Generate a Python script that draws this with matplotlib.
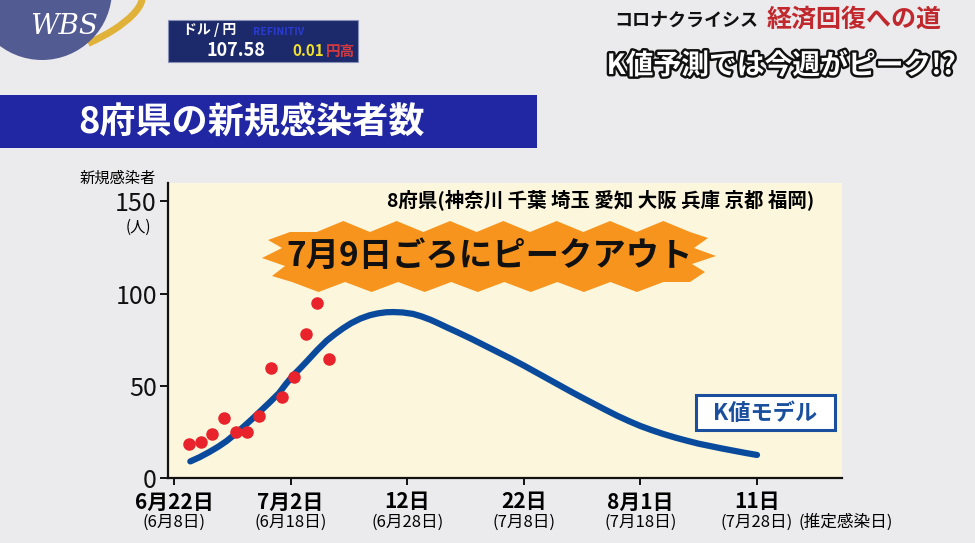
import matplotlib
matplotlib.use('Agg')
import matplotlib.pyplot as plt
import matplotlib.patches as mpatches
import matplotlib.transforms as mtransforms
import matplotlib.patheffects as pe
import numpy as np

plt.rcParams['font.family'] = ['Noto Sans CJK JP', 'DejaVu Sans']

W, H = 975, 543

# observed new cases, x = days after 6/22
obs_day = [1.3, 2.3, 3.3, 4.3, 5.3, 6.3, 7.3, 8.3, 9.3, 10.3, 11.3, 12.3, 13.3]
obs_cases = [18.6, 19.6, 23.7, 32.4, 25, 25, 33.5, 59.4, 43.9, 55, 78.3, 95.1, 64.8]

# K-value model curve
model_day = [1.4, 2.2, 3.0, 3.8, 4.5, 5.2, 6.0, 6.7, 7.4, 8.2, 9.0, 9.6, 10.2, 10.9,
             11.5, 12.3, 13.1, 13.8, 14.5, 15.2, 16.0, 16.8, 17.5, 18.2, 18.8, 19.6,
             20.5, 21.2, 22.0, 22.7, 23.4, 24.4, 25.5, 26.6, 27.7, 28.8, 30.0, 31.0,
             32.0, 33.0, 34.0, 35.0, 36.0, 37.0, 38.0, 39.0, 40.0, 41.0, 42.0, 43.0,
             44.0, 45.0, 46.0, 47.0, 48.0, 49.0, 50.0]
model_cases = [9.0, 11.3, 14.0, 17.0, 20.0, 23.6, 28.0, 32.0, 36.2, 41.0, 46.0, 51.0, 55.5, 60.0,
               64.0, 69.5, 74.5, 78.0, 81.2, 84.0, 86.5, 88.3, 89.3, 89.9, 90.0, 89.8,
               89.0, 87.7, 85.8, 83.8, 81.7, 78.8, 75.5, 72.0, 68.5, 65.0, 61.0, 57.5,
               54.0, 50.5, 47.0, 43.6, 40.3, 37.0, 33.8, 30.9, 28.2, 25.9, 23.8, 21.9,
               20.2, 18.6, 17.3, 16.0, 14.8, 13.6, 12.5]

tick_day = [0, 10, 20, 30, 40, 50]
tick_main = ['6月22日', '7月2日', '12日', '22日', '8月1日', '11日']
tick_sub = ['(6月8日)', '(6月18日)', '(6月28日)', '(7月8日)', '(7月18日)', '(7月28日)']
ytick_vals = [0, 50, 100, 150]

fig = plt.figure(figsize=(W / 100, H / 100), dpi=100)
fig.patch.set_facecolor('#ebebed')

# pixel coords (origin top-left) -> display
px = mtransforms.Affine2D().scale(1 / 100, -1 / 100).translate(0, H / 100) + fig.dpi_scale_trans

# ---- chart ----
ax = fig.add_axes([168 / W, 1 - 478 / H, (842 - 168) / W, (478 - 183) / H])
ax.set_facecolor('#fbf6dc')
ax.set_xlim(-0.515, 57.29)
ax.set_ylim(0, 160)
for s in ['top', 'right']:
    ax.spines[s].set_visible(False)
for s in ['left', 'bottom']:
    ax.spines[s].set_linewidth(1.6)
    ax.spines[s].set_color('#111111')

ax.plot(model_day, model_cases, color='#0a4a9c', lw=4.5, solid_capstyle='round',
        solid_joinstyle='round', zorder=3)
ax.plot(obs_day, obs_cases, 'o', color='#e8232b', markersize=8, zorder=4)

ax.set_yticks(ytick_vals)
ax.set_yticklabels([str(v) for v in ytick_vals], fontsize=18)
ax.tick_params(axis='y', direction='out', length=6, width=1.4, pad=2, colors='#111111')
ax.set_xticks(tick_day)
ax.set_xticklabels([])
ax.tick_params(axis='x', direction='out', length=5, width=1.4, colors='#111111')

xt = mtransforms.blended_transform_factory(ax.transData, px)
for d, m, s in zip(tick_day, tick_main, tick_sub):
    ax.text(d, 502, m, transform=xt, ha='center', va='center', fontsize=15,
            fontweight='bold', clip_on=False)
    ax.text(d, 522, s, transform=xt, ha='center', va='center', fontsize=12, clip_on=False)
fig.text(846, 522, '(推定感染日)', transform=px, ha='center', va='center', fontsize=12)

fig.text(118, 178, '新規感染者', transform=px, ha='center', va='center', fontsize=11)
fig.text(138, 227, '(人)', transform=px, ha='center', va='center', fontsize=11)

fig.text(601, 200, '8府県(神奈川 千葉 埼玉 愛知 大阪 兵庫 京都 福岡)', transform=px,
         ha='center', va='center', fontsize=14, fontweight='bold')

# orange burst
bx = [290, 268, 282, 262, 285, 272, 292]
by = [232, 240, 248, 258, 266, 276, 282]
xs = np.linspace(292, 690, 16)
for i, x in enumerate(xs[1:-1]):
    bx.append(x)
    by.append(292 if i % 2 == 0 else 282)
bx += [690, 705, 692, 716, 694, 708, 690]
by += [282, 272, 264, 256, 248, 238, 232]
xs = np.linspace(690, 290, 16)
for i, x in enumerate(xs[1:-1]):
    bx.append(x)
    by.append(221 if i % 2 == 0 else 232)
fig.add_artist(mpatches.Polygon(list(zip(bx, by)), closed=True, transform=px,
                                facecolor='#f7941d', edgecolor='none', zorder=5))
fig.text(490, 256, '7月9日ごろにピークアウト', transform=px, ha='center', va='center',
         fontsize=24, fontweight='bold', color='#111111', zorder=6)

# K値モデル box
fig.add_artist(mpatches.Rectangle((696, 395), 139, 35, transform=px, facecolor='white',
                                  edgecolor='#1a4f9e', lw=2.2, zorder=5))
fig.text(765, 413, 'K値モデル', transform=px, ha='center', va='center', fontsize=16,
         fontweight='bold', color='#1a4f9e', zorder=6)

# ---- title banner ----
fig.add_artist(mpatches.Rectangle((0, 95), 537, 53, transform=px, facecolor='#2126a3',
                                  edgecolor='none', zorder=1))
fig.text(252, 122, '8府県の新規感染者数', transform=px, ha='center', va='center',
         fontsize=26, fontweight='bold', color='white', zorder=2)

# ---- WBS logo ----
fig.add_artist(mpatches.Arc((72, 22), 150, 52, angle=-22, theta1=-120, theta2=75,
                            transform=px, color='#e0b23a', lw=5, zorder=2))
fig.add_artist(mpatches.Circle((42, -10), 70, transform=px, facecolor='#535b93',
                               edgecolor='none', zorder=3))
fig.text(64, 26, 'WBS', transform=px, ha='center', va='center', fontsize=20,
         family='DejaVu Serif', style='italic', color='white', zorder=4)

# ---- exchange rate box ----
fig.add_artist(mpatches.Rectangle((168, 20), 190, 42, transform=px, facecolor='#1c2a6b',
                                  edgecolor='#8890b8', lw=0.8, zorder=2))
fig.text(183, 30, 'ドル / 円', transform=px, ha='left', va='center', fontsize=10,
         fontweight='bold', color='white', zorder=3)
fig.text(253, 32, 'REFINITIV', transform=px, ha='left', va='center', fontsize=7.5,
         fontweight='bold', color='#2a3cd0', zorder=3)
fig.text(236, 50, '107.58', transform=px, ha='center', va='center', fontsize=13,
         fontweight='bold', color='white', zorder=3)
fig.text(292, 51, '0.01', transform=px, ha='left', va='center', fontsize=11,
         fontweight='bold', color='#f2e030', zorder=3)
fig.text(326, 51, '円高', transform=px, ha='left', va='center', fontsize=10.5,
         fontweight='bold', color='#d23a40', zorder=3)

# ---- top-right caption ----
fig.text(686, 20, 'コロナクライシス', transform=px, ha='center', va='center', fontsize=13,
         fontweight='bold', style='italic', color='#111111')
fig.text(854, 20, '経済回復への道', transform=px, ha='center', va='center', fontsize=18,
         fontweight='bold', color='#c0282d')
fig.text(781, 66, 'K値予測では今週がピーク!?', transform=px, ha='center', va='center',
         fontsize=20, fontweight='bold', color='white',
         path_effects=[pe.withStroke(linewidth=3.5, foreground='#111111')])

fig.savefig('out.png', dpi=100, facecolor=fig.get_facecolor())
